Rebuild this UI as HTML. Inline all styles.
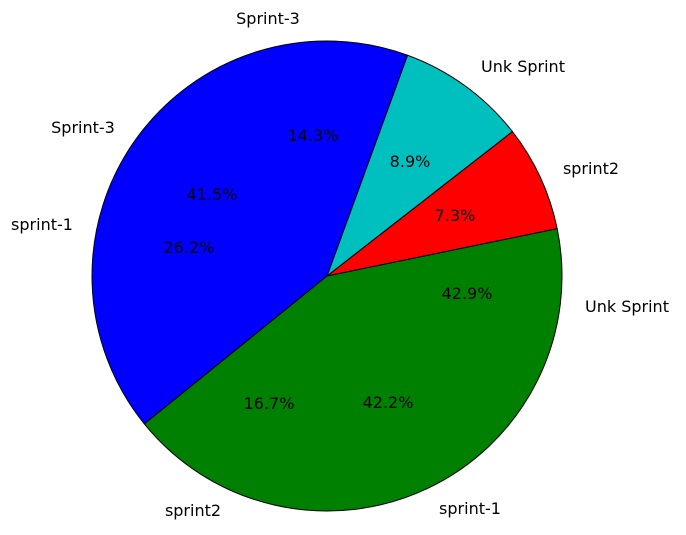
<!DOCTYPE html>
<html><head><meta charset="utf-8"><style>
body{margin:0;background:#fff;width:686px;height:530px;overflow:hidden;font-family:"Liberation Sans",sans-serif}
svg text{font-family:"DejaVu Sans","Liberation Sans",sans-serif;font-size:16px;fill:#000}
</style></head><body>
<svg id="chart" width="686" height="530">
<g id="wedges"></g>
<g id="labels"></g>
</svg>
<script>
const sliceNames = ["green-slice","red-slice","cyan-slice","blue-slice"];
const sliceValues = [42.4, 7.3, 8.9, 41.4];
const sliceColors = ["#008000","#ff0000","#00bfbf","#0000ff"];
const startAngle = 219;
const outerLabels = ["Sprint-3","Unk Sprint","sprint2","Unk Sprint","sprint-1","sprint2","sprint-1","Sprint-3"];
const pctLabels = ["14.3%","8.9%","7.3%","42.9%","42.2%","16.7%","26.2%","41.5%"];
const outerPos = [[268,18],[523,66],[591,168],[627,306],[470,508],[193,510],[42,224],[83,127]];
const pctPos = [[313,135],[410,161],[455,215],[467,293],[388,402],[269,403],[189,247],[212,194]];
const cx=327, cy=276, r=235;
const ns="http://www.w3.org/2000/svg";
const total = sliceValues.reduce((a,b)=>a+b,0);
let a = startAngle;
const wg=document.getElementById('wedges');
sliceValues.forEach((v,i)=>{
  const sweep=v/total*360, a2=a+sweep;
  const p=t=>[cx+r*Math.cos(t*Math.PI/180), cy-r*Math.sin(t*Math.PI/180)];
  const [x1,y1]=p(a),[x2,y2]=p(a2);
  const el=document.createElementNS(ns,'path');
  el.setAttribute('d',`M${cx},${cy} L${x1},${y1} A${r},${r} 0 ${sweep>180?1:0} 0 ${x2},${y2} Z`);
  el.setAttribute('fill',sliceColors[i]);
  el.setAttribute('stroke','#000');
  el.setAttribute('stroke-width','1');
  
  
  wg.appendChild(el);
  a=a2;
});
const lg=document.getElementById('labels');
function addText(txt,x,y){
  const t=document.createElementNS(ns,'text');
  t.setAttribute('x',x);t.setAttribute('y',y+6);
  t.setAttribute('text-anchor','middle');
  t.textContent=txt;
  return t;
}
outerLabels.forEach((s,i)=>{
  const t=addText(s,outerPos[i][0],outerPos[i][1]);
  
  
  lg.appendChild(t);
});
pctLabels.forEach((s,i)=>{
  const t=addText(s,pctPos[i][0],pctPos[i][1]);
  
  
  lg.appendChild(t);
});
</script>
</body></html>
